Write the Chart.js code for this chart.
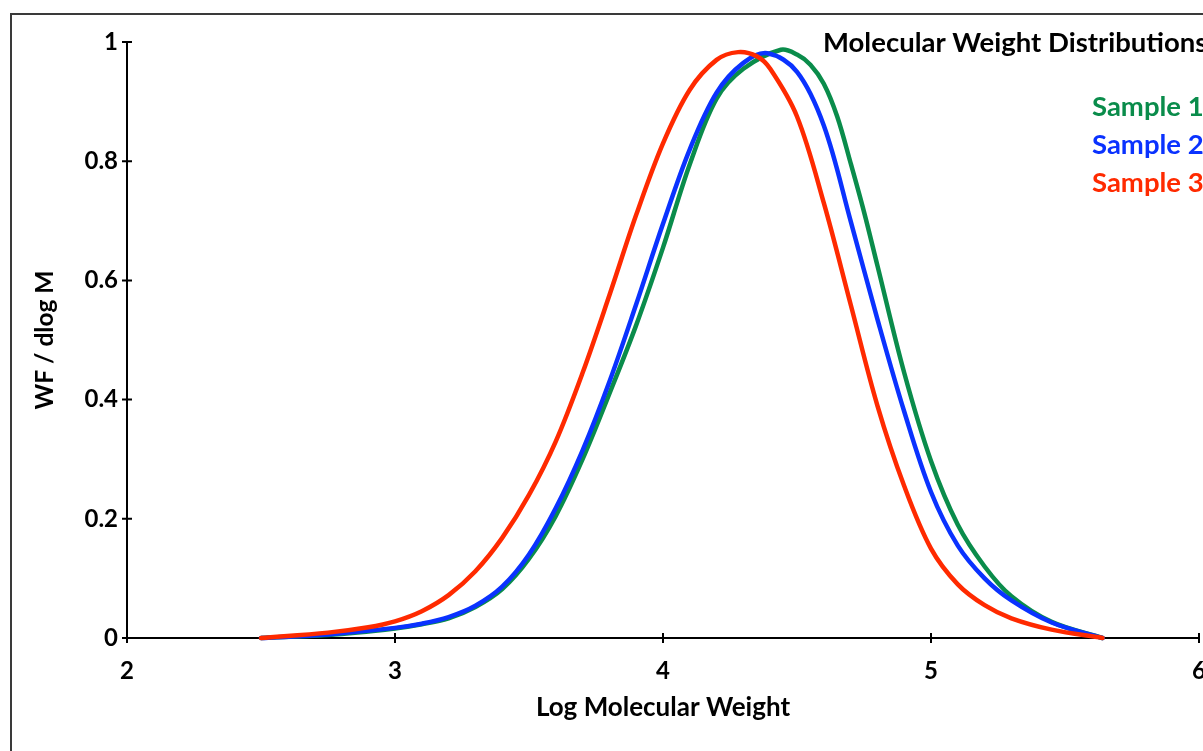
<!DOCTYPE html>
<html>
<head>
<meta charset="utf-8">
<script src="https://cdn.jsdelivr.net/npm/chart.js@4"></script>
<style>
  html, body { margin: 0; padding: 0; background: #fff; overflow: hidden; }
  #wrap { position: relative; width: 1203px; height: 751px; }
  #frame { position: absolute; left: 10px; top: 13px; width: 1400px; height: 1000px; border: 2px solid #3a3a3a; pointer-events: none; }
</style>
</head>
<body>
<div id="wrap">
  <canvas id="mwd-chart"></canvas>
  <div id="frame"></div>
</div>
<script>
const chartTitle = 'Molecular Weight Distributions'
const sampleLabels = ['Sample 1', 'Sample 2', 'Sample 3']
const sampleColors = ['#0a8c4b', '#0a32ff', '#ff2a00']

// log M values and WF/dlogM
const logM_s1 = [2.5, 2.75, 3.0, 3.1, 3.2, 3.3, 3.4, 3.5, 3.6, 3.7, 3.8, 3.9, 4.0, 4.1, 4.2, 4.3, 4.44, 4.5, 4.55, 4.6, 4.65, 4.7, 4.75, 4.8, 4.9, 5.0, 5.1, 5.2, 5.3, 5.45, 5.64]
const wf_s1 = [0, 0.005, 0.016, 0.023, 0.033, 0.052, 0.082, 0.133, 0.205, 0.3, 0.41, 0.525, 0.655, 0.795, 0.905, 0.955, 0.987, 0.979, 0.962, 0.93, 0.875, 0.797, 0.715, 0.625, 0.445, 0.297, 0.19, 0.12, 0.07, 0.027, 0]

const logM_s2 = [2.5, 2.75, 3.0, 3.1, 3.2, 3.3, 3.4, 3.5, 3.6, 3.7, 3.8, 3.9, 4.0, 4.1, 4.2, 4.3, 4.39, 4.5, 4.6, 4.7, 4.8, 4.9, 5.0, 5.1, 5.2, 5.3, 5.45, 5.64]
const wf_s2 = [0, 0.006, 0.017, 0.024, 0.035, 0.054, 0.086, 0.14, 0.218, 0.315, 0.43, 0.56, 0.695, 0.82, 0.915, 0.965, 0.981, 0.95, 0.86, 0.7, 0.535, 0.38, 0.245, 0.155, 0.1, 0.063, 0.026, 0]

const logM_s3 = [2.5, 2.75, 2.9, 3.0, 3.1, 3.2, 3.3, 3.4, 3.5, 3.6, 3.7, 3.8, 3.9, 4.0, 4.1, 4.2, 4.28, 4.35, 4.4, 4.5, 4.6, 4.7, 4.8, 4.9, 5.0, 5.1, 5.2, 5.3, 5.45, 5.64]
const wf_s3 = [0, 0.009, 0.018, 0.028, 0.045, 0.072, 0.112, 0.168, 0.24, 0.33, 0.445, 0.575, 0.71, 0.83, 0.92, 0.97, 0.983, 0.976, 0.955, 0.875, 0.73, 0.56, 0.39, 0.255, 0.15, 0.09, 0.055, 0.033, 0.014, 0]

const xTicksMin = 2
const xTicksMax = 6

const fontFamily = 'Lato, "Open Sans", sans-serif'

function toPoints(xs, ys) {
  return xs.map((x, i) => ({ x: x, y: ys[i] }))
}

// ticks crossing the axis lines, title and coloured legend text
const extrasPlugin = {
  id: 'extras',
  afterDraw(chart) {
    const ctx = chart.ctx
    const xScale = chart.scales.x
    const yScale = chart.scales.y
    const area = chart.chartArea
    ctx.save()
    ctx.strokeStyle = '#000'
    ctx.lineWidth = 2
    ctx.beginPath()
    xScale.ticks.forEach(t => {
      const px = xScale.getPixelForValue(t.value)
      ctx.moveTo(px, area.bottom - 5)
      ctx.lineTo(px, area.bottom + 5)
    })
    yScale.ticks.forEach(t => {
      const py = yScale.getPixelForValue(t.value)
      ctx.moveTo(area.left - 5, py)
      ctx.lineTo(area.left + 5, py)
    })
    ctx.stroke()

    ctx.textAlign = 'left'
    ctx.textBaseline = 'middle'
    ctx.font = 'bold 27.5px ' + fontFamily
    ctx.fillStyle = '#000'
    ctx.fillText(chartTitle, 823, 43)
    chart.data.datasets.forEach((ds, i) => {
      ctx.fillStyle = ds.borderColor
      ctx.fillText(ds.label, 1092, 107 + i * 38)
    })
    ctx.restore()
  }
}

const mwdCanvas = document.getElementById('mwd-chart')
new Chart(mwdCanvas, {
  type: 'line',
  data: {
    datasets: [
      {
        label: sampleLabels[0],
        data: toPoints(logM_s1, wf_s1),
        borderColor: sampleColors[0],
        order: 2
      },
      {
        label: sampleLabels[1],
        data: toPoints(logM_s2, wf_s2),
        borderColor: sampleColors[1],
        order: 1
      },
      {
        label: sampleLabels[2],
        data: toPoints(logM_s3, wf_s3),
        borderColor: sampleColors[2],
        order: 0
      }
    ]
  },
  options: {
    responsive: true,
    maintainAspectRatio: false,
    animation: false,
    clip: 6,
    layout: {
      padding: { top: 42, right: 4, bottom: 0, left: 0 }
    },
    elements: {
      line: { borderWidth: 4.5, tension: 0.35, fill: false, borderCapStyle: 'round' },
      point: { radius: 0 }
    },
    scales: {
      x: {
        type: 'linear',
        min: xTicksMin,
        max: xTicksMax,
        afterFit(scale) {
          scale.height = 113
          scale.paddingLeft = 0
          scale.paddingRight = 0
        },
        border: { color: '#000', width: 2 },
        grid: { display: false, drawTicks: false },
        ticks: {
          stepSize: 1,
          padding: 19,
          color: '#000',
          maxRotation: 0,
          font: { family: fontFamily, size: 24, weight: 'bold' }
        },
        title: {
          display: true,
          text: 'Log Molecular Weight',
          color: '#000',
          font: { family: fontFamily, size: 26, weight: 'bold', lineHeight: 1.2 },
          padding: { top: 0, bottom: 28 }
        }
      },
      y: {
        min: 0,
        max: 1,
        afterFit(scale) {
          scale.width = 127
          scale.paddingTop = 0
          scale.paddingBottom = 0
        },
        border: { color: '#000', width: 2 },
        grid: { display: false, drawTicks: false },
        ticks: {
          stepSize: 0.2,
          padding: 9,
          color: '#000',
          font: { family: fontFamily, size: 24, weight: 'bold' },
          callback: function (value) {
            return String(Number(value.toFixed(1)))
          }
        },
        title: {
          display: true,
          text: 'WF / dlog M',
          color: '#000',
          font: { family: fontFamily, size: 24.5, weight: 'bold', lineHeight: 1.2 },
          padding: { top: 30, bottom: 0 }
        }
      }
    },
    plugins: {
      legend: { display: false },
      tooltip: { enabled: false }
    }
  },
  plugins: [extrasPlugin]
})
</script>
</body>
</html>
